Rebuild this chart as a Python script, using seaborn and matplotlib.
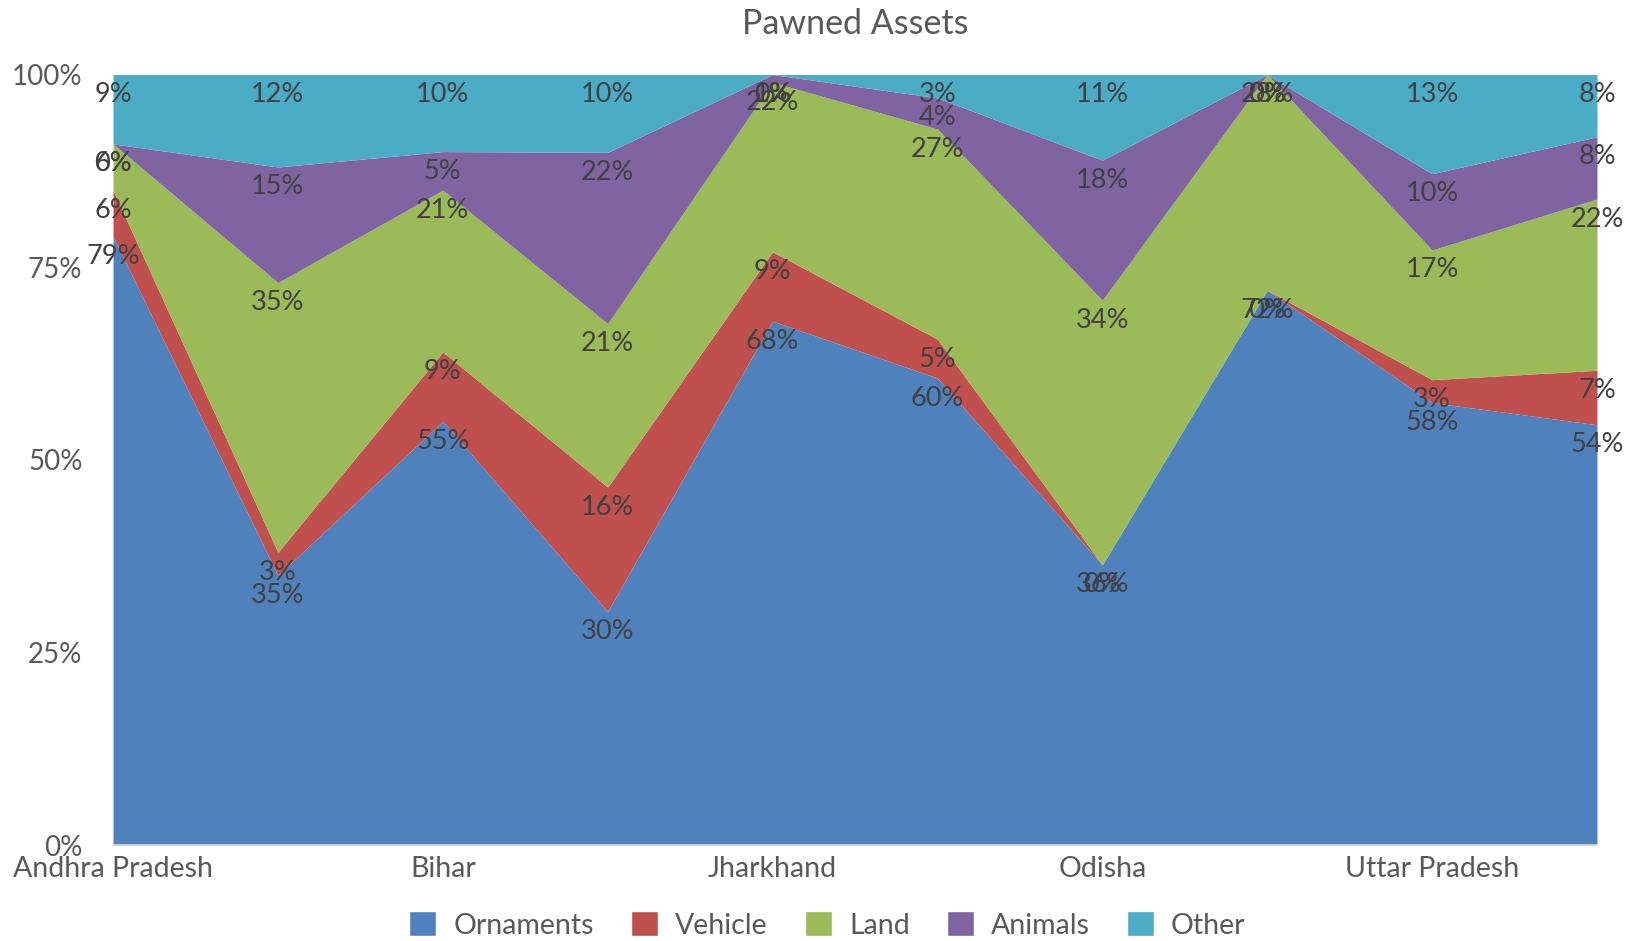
import numpy as np
import pandas as pd
import matplotlib
matplotlib.use("Agg")
import matplotlib.pyplot as plt
import seaborn as sns
from matplotlib.patches import Patch

states = ["Andhra Pradesh", "Assam", "Bihar", "Chhattisgarh", "Jharkhand",
          "Madhya Pradesh", "Odisha", "Rajasthan", "Uttar Pradesh", "West Bengal"]
shown_ticks = ["Andhra Pradesh", "", "Bihar", "", "Jharkhand", "", "Odisha", "", "Uttar Pradesh", ""]
ornaments = [79, 35, 55, 30, 68, 60, 36, 72, 58, 54]
vehicle = [6, 3, 9, 16, 9, 5, 0, 0, 3, 7]
land = [6, 35, 21, 21, 22, 27, 34, 28, 17, 22]
animals = [0, 15, 5, 22, 1, 4, 18, 0, 10, 8]
other = [9, 12, 10, 10, 0, 3, 11, 0, 13, 8]
series_names = ["Ornaments", "Vehicle", "Land", "Animals", "Other"]
colors = ["#4F81BD", "#C0504D", "#9BBB59", "#8064A2", "#4BACC6"]

df = pd.DataFrame({"Ornaments": ornaments, "Vehicle": vehicle, "Land": land,
                   "Animals": animals, "Other": other}, index=states)
pct = df.div(df.sum(axis=1), axis=0) * 100

sns.set_theme(style="white")
plt.rcParams['font.family'] = ['Lato', 'DejaVu Sans']

fig = plt.figure(figsize=(16.45, 9.41), dpi=100)
ax = fig.add_axes([0.0687, 0.102, 0.9021, 0.8188])
x = np.arange(len(states))
ax.stackplot(x, [pct[c].values for c in series_names], colors=colors, linewidth=0)

# data labels just under the top edge of each band
cum = pct.cumsum(axis=1)
for c in series_names:
    for i in range(len(states)):
        ax.annotate(f"{df[c].iloc[i]}%", (x[i], cum[c].iloc[i]), xytext=(0, -20),
                    textcoords="offset pixels", ha="center", va="center",
                    fontsize=19.5, color="#404040", annotation_clip=False)

ax.set_xlim(0, 9)
ax.set_ylim(0, 100)
ax.set_yticks([0, 25, 50, 75, 100])
ax.set_yticklabels(["0%", "25%", "50%", "75%", "100%"], fontsize=20, color="#595959")
ax.set_xticks(x)
ax.set_xticklabels(shown_ticks, fontsize=20.5, color="#595959")
ax.tick_params(axis="both", length=0)
ax.tick_params(axis="y", pad=22)
ax.tick_params(axis="x", pad=8)
sns.despine(ax=ax, left=True, top=True, right=True)
ax.spines["bottom"].set_color("#D9D9D9")
ax.text(0.5, 0.975, "Pawned Assets", transform=fig.transFigure, ha="center", va="center",
        fontsize=24.5, color="#595959")
ax.texts[-1].set_x(ax.get_position().x0 + ax.get_position().width / 2)

handles = [Patch(facecolor=col, label=n) for col, n in zip(colors, series_names)]
fig.legend(handles=handles, loc="center", bbox_to_anchor=(0.503, 0.017), ncol=5,
           frameon=False, fontsize=20.5, handlelength=0.95, handleheight=0.95,
           handletextpad=0.6, columnspacing=1.3, labelcolor="#595959")

fig.savefig("out.png", dpi=100)
